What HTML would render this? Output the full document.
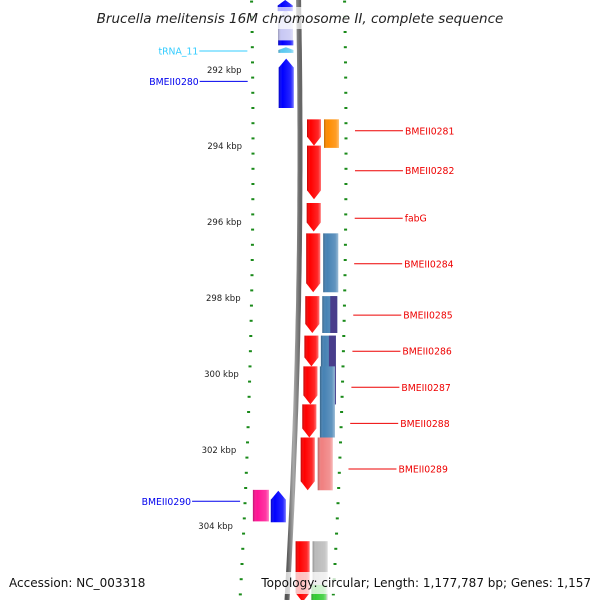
<!DOCTYPE html>
<html><head><meta charset="utf-8"><style>
html,body{margin:0;padding:0;background:#fff;overflow:hidden;width:600px;height:600px}
svg{display:block;font-family:"DejaVu Sans","Liberation Sans",sans-serif}
</style></head><body>
<svg id="map" width="600" height="600" viewBox="0 0 600 600" xmlns="http://www.w3.org/2000/svg" style="overflow:hidden">
<defs>
<linearGradient id="shade" x1="0" x2="1" y1="0" y2="0">
<stop offset="0" stop-color="#000" stop-opacity="0.25"/><stop offset="0.25" stop-color="#fff" stop-opacity="0"/><stop offset="0.8" stop-color="#fff" stop-opacity="0.15"/><stop offset="1" stop-color="#fff" stop-opacity="0.45"/>
</linearGradient>
<linearGradient id="bb" x1="0" x2="1"><stop offset="0" stop-color="#555"/><stop offset="0.5" stop-color="#aaa"/><stop offset="1" stop-color="#666"/></linearGradient>
</defs>
<g id="ticks"></g>
<path id="backbone" d="" fill="none" stroke="url(#bb)" stroke-width="5"/>
<g id="genes"></g>
<g id="labels"></g>
<rect x="90" y="7" width="420" height="22" fill="#fff" opacity="0.7"/>
<text x="300" y="23" text-anchor="middle" font-size="13.5" font-style="italic" fill="#222">Brucella melitensis 16M chromosome II, complete sequence</text>
<rect x="258" y="572" width="338" height="22" fill="#fff" opacity="0.75"/>
<text x="9" y="587" font-size="12" fill="#111">Accession: NC_003318</text>
<text x="591" y="587" text-anchor="end" font-size="12" fill="#111">Topology: circular; Length: 1,177,787 bp; Genes: 1,157</text>
</svg>
<script>
const tickKbp=[292,294,296,298,300,302,304];
const geneNames=["top-gene","tRNA_11","BMEII0280","BMEII0281","BMEII0282","fabG","BMEII0284","BMEII0285","BMEII0286","BMEII0287","BMEII0288","BMEII0289","BMEII0290","BMEII0290-pink","bottom-gene-red","bottom-gene-gray","bottom-gene-green"];
const geneStart=[290.4,291.4,291.7,293.3,293.99,295.5,296.3,297.95,298.99,299.8,300.8,301.67,303.07,303.05,304.4,304.4,305.55];
const geneEnd=[291.35,291.55,293.0,293.99,295.4,296.25,297.85,298.92,299.8,300.8,301.67,303.06,303.9,303.88,306,306,306];
const geneStrand=[1,1,1,-1,-1,-1,-1,-1,-1,-1,-1,-1,1,0,-1,0,0];
const geneColor=["#c8c8f4","#5ac8f0","#0000ff","#ff0000","#ff0000","#ff0000","#ff0000","#ff0000","#ff0000","#ff0000","#ff0000","#ff0000","#0000ff","#ff1493","#ff0000","#bbbbbb","#33cc33"];
const geneLane=[0,0,0,1,1,1,1,1,1,1,1,1,0,-1,1,2,2];
const cogStart=[293.3,296.3,297.95,298.99,299.8,301.67];
const cogEnd=[294.05,297.85,298.92,300.8,301.67,303.06];
const cogColor=["#ff8c00","#4682b4","#4682b4","#4682b4","#4682b4","#f08080"];
const cogColor2=["","","#483d8b","#483d8b","",""];
const labelNames=["tRNA_11","BMEII0280","BMEII0281","BMEII0282","fabG","BMEII0284","BMEII0285","BMEII0286","BMEII0287","BMEII0288","BMEII0289","BMEII0290"];
const labelKbp=[291.5,292.3,293.6,294.65,295.9,297.1,298.45,299.4,300.35,301.3,302.5,303.35];
const labelSide=[-1,-1,1,1,1,1,1,1,1,1,1,-1];
const labelColor=["#33ccff","#0000ee","#ee0000","#ee0000","#ee0000","#ee0000","#ee0000","#ee0000","#ee0000","#ee0000","#ee0000","#0000ee"];

const NS="http://www.w3.org/2000/svg";
const yOf=k=>70+(k-292)*38;
const bx=y=>300-Math.pow(y-150,2)/15577;
function mk(tag,attrs,parent){const e=document.createElementNS(NS,tag);for(const a in attrs)e.setAttribute(a,attrs[a]);parent.appendChild(e);return e;}
let d="";for(let y=0;y<=600;y+=10){d+=(y?"L":"M")+bx(y).toFixed(1)+","+y;}
document.getElementById("backbone").setAttribute("d",d);
const tg=document.getElementById("ticks");
for(let k=290.2;k<=306.7;k+=0.4){
  const y=yOf(k);const major=tickKbp.some(t=>Math.abs(t-k)<0.05);
  [-47,46].forEach(o=>{const x=bx(y)+o;
    const r=mk("rect",{x:x-(major?4:1.5),y:y-1,width:major?8:3,height:2,fill:"#1a8a1a"},tg);
    
    });
}
tickKbp.forEach(k=>{const y=yOf(k);
  const t=mk("text",{x:bx(y)-58,y:y+3,"text-anchor":"end","font-size":"8.5",fill:"#222"},tg);t.textContent=k+" kbp";
  
  });
const gg=document.getElementById("genes");
const laneOff={"-1":[-39,-23],"0":[-21,-6],"1":[7,21],"2":[24,39]};
function shape(y1,y2,lane,strand,color,name){
  const ym=(y1+y2)/2,c=bx(ym),o=laneOff[lane];const x1=c+o[0],x2=c+o[1];
  const h=Math.min(9,(y2-y1)*0.5);let pts;
  if(strand>0)pts=[[x1,y2],[x1,y1+h],[(x1+x2)/2,y1],[x2,y1+h],[x2,y2]];
  else if(strand<0)pts=[[x1,y1],[x2,y1],[x2,y2-h],[(x1+x2)/2,y2],[x1,y2-h]];
  else pts=[[x1,y1],[x2,y1],[x2,y2],[x1,y2]];
  const p=pts.map(q=>q[0].toFixed(1)+","+q[1].toFixed(1)).join(" ");
  const e=mk("polygon",{points:p,fill:color},gg);
  
  
  mk("polygon",{points:p,fill:"url(#shade)"},gg);
}
geneNames.forEach((n,i)=>shape(yOf(geneStart[i]),yOf(geneEnd[i]),geneLane[i],geneStrand[i],geneColor[i],"gene-"+n.toLowerCase()));
shape(0,yOf(290.45),0,1,"#0000ff","gene-top-cap");
shape(yOf(291.22),yOf(291.35),0,0,"#0000ff","gene-top-base");
cogStart.forEach((s,i)=>{
  const y1=yOf(s),y2=yOf(cogEnd[i]);shape(y1,y2,2,0,cogColor[i],"cog-bar");
  if(cogColor2[i]){const c=bx((y1+y2)/2);
    const r=mk("rect",{x:c+32,y:y1,width:7,height:y2-y1,fill:cogColor2[i]},gg);
    
    }
});
const lg=document.getElementById("labels");
labelNames.forEach((n,i)=>{const y=yOf(labelKbp[i]);
  let lx1,lx2,tx,anchor;
  if(labelSide[i]>0){lx1=bx(y)+55;lx2=lx1+48;tx=lx2+2;anchor="start";}
  else{lx2=bx(y)-52;lx1=lx2-48;tx=lx1-1;anchor="end";}
  const l=mk("line",{x1:lx1,y1:y,x2:lx2,y2:y,stroke:labelColor[i],"stroke-width":1},lg);
  
  
  const t=mk("text",{x:tx,y:y+3.5,"text-anchor":anchor,"font-size":"9.3",fill:labelColor[i]},lg);
  t.textContent=n;
  
  
});
</script>
</body></html>
